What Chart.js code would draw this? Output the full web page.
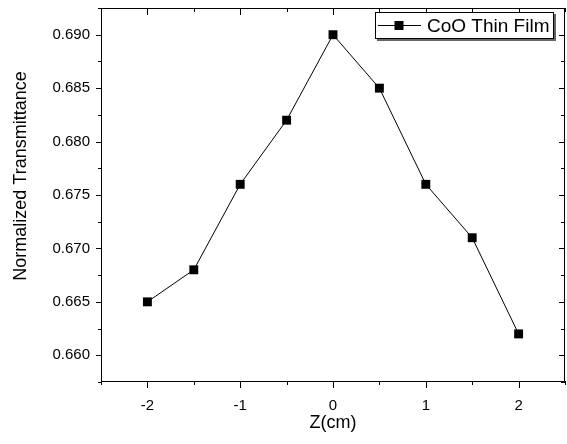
<!DOCTYPE html>
<html>
<head>
<meta charset="utf-8">
<script src="https://cdn.jsdelivr.net/npm/chart.js@4"></script>
<style>
  html, body { margin: 0; padding: 0; background: #fff; }
  #wrap { width: 567px; height: 444px; }
</style>
</head>
<body>
<div id="wrap"><canvas id="c" width="567" height="444"></canvas></div>
<script>
const zValues = [-2, -1.5, -1, -0.5, 0, 0.5, 1, 1.5, 2];
const transmittance = [0.665, 0.668, 0.676, 0.682, 0.690, 0.685, 0.676, 0.671, 0.662];
const seriesLabel = 'CoO Thin Film';
const xTickValues = [-2, -1, 0, 1, 2];
const xMinorValues = [-2.5, -1.5, -0.5, 0.5, 1.5, 2.5];
const yTickValues = [0.660, 0.665, 0.670, 0.675, 0.680, 0.685, 0.690];
const yMinorValues = [0.6575, 0.6625, 0.6675, 0.6725, 0.6775, 0.6825, 0.6875, 0.6925];
const xTitle = 'Z(cm)';
const yTitle = 'Normalized Transmittance';

const FONT = "'Liberation Sans', Arial, sans-serif";

const framePlugin = {
  id: 'frame',
  afterDraw(chart) {
    const ctx = chart.ctx;
    const a = chart.chartArea;
    const xs = chart.scales.x, ys = chart.scales.y;
    ctx.save();
    ctx.fillStyle = '#000';
    const L = Math.round(a.left), R = Math.round(a.right) - 1;
    const T = Math.round(a.top), B = Math.round(a.bottom) - 1;
    ctx.fillRect(L, T, R - L + 1, 1);
    ctx.fillRect(L, B, R - L + 1, 1);
    ctx.fillRect(L, T, 1, B - T + 1);
    ctx.fillRect(R, T, 1, B - T + 1);
    const xt = (v, len) => {
      const p = Math.round(xs.getPixelForValue(v));
      ctx.fillRect(p, B, 1, len + 1);
      ctx.fillRect(p, T, 1, len + 1);
    };
    const yt = (v, len) => {
      const p = Math.round(ys.getPixelForValue(v));
      ctx.fillRect(L - len, p, len + 1, 1);
      ctx.fillRect(R - len, p, len + 1, 1);
    };
    xTickValues.forEach(v => xt(v, 6));
    xMinorValues.forEach(v => xt(v, 3));
    yTickValues.forEach(v => yt(v, 5));
    yMinorValues.forEach(v => yt(v, 3));

    // y-axis title (placed as in the reference, above the plot centre)
    ctx.save();
    ctx.translate(21, 176);
    ctx.rotate(-Math.PI / 2);
    ctx.font = '18px ' + FONT;
    ctx.textAlign = 'center';
    ctx.textBaseline = 'middle';
    ctx.fillText(yTitle, 0, 0);
    ctx.restore();

    // legend
    const lx = 375, ly = 12, lw = 179, lh = 27;
    ctx.fillStyle = '#fff';
    ctx.fillRect(lx, ly, lw, lh);
    ctx.fillStyle = '#666';
    ctx.fillRect(lx + 2, ly + lh, lw, 2);
    ctx.fillRect(lx + lw, ly + 2, 2, lh);
    ctx.fillStyle = '#000';
    ctx.fillRect(lx, ly, lw, 1);
    ctx.fillRect(lx, ly + lh - 1, lw, 1);
    ctx.fillRect(lx, ly, 1, lh);
    ctx.fillRect(lx + lw - 1, ly, 1, lh);
    const cy = ly + 13;
    ctx.fillRect(lx + 3, cy, 43, 1);
    ctx.fillRect(lx + 24 - 4.5, cy - 4, 9, 9);
    ctx.font = '19px ' + FONT;
    ctx.textBaseline = 'middle';
    ctx.textAlign = 'left';
    ctx.fillText(chart.data.datasets[0].label, lx + 52, cy + 1.5);
    ctx.restore();
  }
};

new Chart(document.getElementById('c'), {
  type: 'line',
  data: {
    datasets: [{
      label: seriesLabel,
      data: zValues.map((z, i) => ({ x: z, y: transmittance[i] })),
      borderColor: '#000',
      backgroundColor: '#000',
      borderWidth: 1,
      pointStyle: 'rect',
      pointRadius: 6.3,
      pointBorderWidth: 0,
      pointBackgroundColor: '#000',
      tension: 0,
      fill: false
    }]
  },
  options: {
    responsive: false,
    animation: false,
    layout: { autoPadding: false, padding: { top: 8, right: 2, left: 0, bottom: 0 } },
    plugins: { legend: { display: false }, tooltip: { enabled: false } },
    scales: {
      x: {
        type: 'linear',
        min: -2.5, max: 2.5,
        afterBuildTicks: s => { s.ticks = xTickValues.map(v => ({ value: v })); },
        afterFit: s => { s.height = 62; s.paddingLeft = 0; s.paddingRight = 0; },
        grid: { display: false, drawTicks: false },
        border: { display: false },
        ticks: {
          color: '#000', padding: 15,
          font: { family: FONT, size: 15 },
          callback: v => String(v)
        },
        title: {
          display: true, text: xTitle, color: '#000',
          font: { family: FONT, size: 18 },
          padding: { top: 0, bottom: 10 }
        }
      },
      y: {
        type: 'linear',
        min: 0.6575, max: 0.6925,
        afterBuildTicks: s => { s.ticks = yTickValues.map(v => ({ value: v })); },
        afterFit: s => { s.width = 101; s.paddingTop = 0; s.paddingBottom = 0; },
        grid: { display: false, drawTicks: false },
        border: { display: false },
        ticks: {
          color: '#000', padding: 11,
          font: { family: FONT, size: 15 },
          callback: v => Number(v).toFixed(3)
        },
        title: { display: false, text: yTitle }
      }
    }
  },
  plugins: [framePlugin]
});
</script>
</body>
</html>
